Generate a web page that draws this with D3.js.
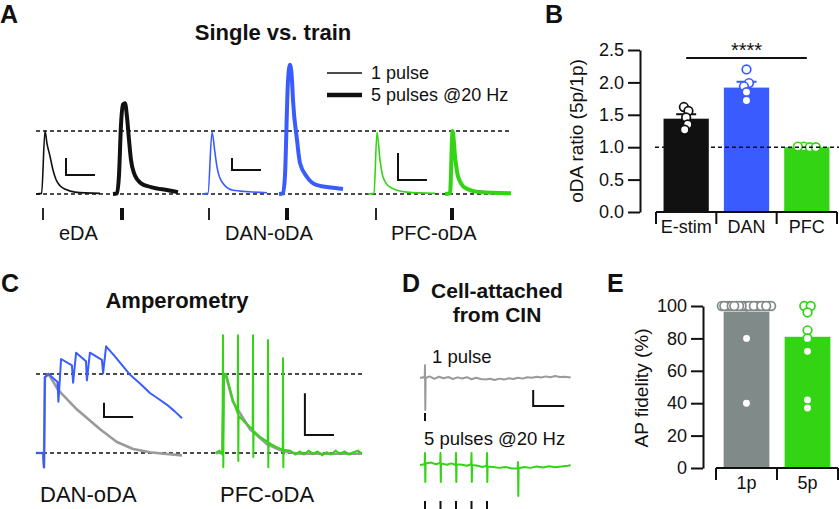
<!DOCTYPE html>
<html>
<head>
<meta charset="utf-8">
<script src="https://cdn.jsdelivr.net/npm/d3@7"></script>
<style>
  body { margin: 0; background: #fff; }
  svg { display: block; }
  text { font-family: "Liberation Sans", Arial, Helvetica, sans-serif; fill: #111; }
</style>
</head>
<body>
<svg id="fig" width="839" height="509"></svg>
<script>
// ==== data ====

// A: single vs train, [ms from sweep start, amplitude / 1p peak]
const eda1p = [[0, 0], [140, 0.01], [225, 1.0], [275, 0.8], [350, 0.6], [425, 0.38], [500, 0.23], [600, 0.13], [750, 0.07], [975, 0.03], [1600, 0.01]]
const eda5p = [[0, 0], [100, 0.01], [150, 0.3], [200, 1.1], [250, 1.42], [300, 1.44], [350, 1.22], [400, 0.86], [450, 0.54], [525, 0.33], [700, 0.17], [950, 0.11], [1375, 0.06], [1625, 0.03]]
const dan1p = [[0, 0], [150, 0.01], [250, 0.98], [325, 0.65], [375, 0.43], [500, 0.19], [775, 0.06], [1625, 0.02]]
const dan5p = [[0, 0], [100, 0.01], [150, 0.3], [225, 1.8], [275, 2.05], [325, 1.8], [350, 1.49], [450, 0.86], [525, 0.49], [700, 0.27], [950, 0.14], [1350, 0.1], [1600, 0.08]]
const pfc1p = [[0, 0], [150, 0.01], [225, 0.98], [300, 0.54], [375, 0.27], [550, 0.11], [975, 0.03], [1675, 0.01]]
const pfc5p = [[0, 0], [125, 0.01], [190, 1.0], [250, 0.6], [325, 0.28], [500, 0.1], [875, 0.03], [1650, 0.01]]
const aGroups = ['eDA', 'DAN-oDA', 'PFC-oDA']
const aStim1p = [175, 175, 200]
const aStim5p = [225, 200, 175]
const aBarH = [0.27, 0.19, 0.43] // vertical scale bars

// B: oDA ratio
const bCats = ['E-stim', 'DAN', 'PFC']
const bMeans = [1.44, 1.92, 1.0]
const bSem = [0.07, 0.09, 0.01]
const bPoints = [
  [1.62, 1.56, 1.46, 1.35, 1.27],
  [2.2, 1.99, 1.94, 1.85, 1.72],
  [1.01, 1.0, 1.01, 1.0],
]
const bTicks = [0, 0.5, 1, 1.5, 2, 2.5]

// C: amperometry, [ms from first pulse, amplitude / 1p peak]
const danTrain = [[-27, 0], [-3, 0], [0, -0.18], [3, 0.96], [15, 1.0], [45, 0.9], [48, 0.65], [57, 1.19], [93, 1.11], [97, 0.89], [107, 1.27], [140, 1.16], [143, 0.92], [153, 1.27], [193, 1.18], [197, 1.01], [207, 1.35], [237, 1.22], [287, 0.99], [320, 0.88], [353, 0.76], [380, 0.69], [410, 0.61], [435, 0.53], [460, 0.44]]
const danSingle = [[-27, 0], [-3, 0], [0, -0.18], [3, 0.96], [15, 1.0], [47, 0.8], [110, 0.55], [150, 0.42], [187, 0.3], [243, 0.14], [297, 0.05], [353, 0.01], [400, -0.01], [460, -0.03]]
const pfcTrain = [[-25, 0], [-12, 0.03], [-2, -0.02], [0, 1.49], [1, -0.18], [3, 1.0], [10, 1.0], [33, 0.67], [49, 0.5], [50, 1.49], [51, -0.1], [52, 0.47], [70, 0.4], [90, 0.33], [99, 0.3], [100, 1.49], [101, -0.05], [102, 0.28], [125, 0.2], [149, 0.14], [150, 1.43], [151, -0.18], [152, 0.13], [175, 0.08], [199, 0.04], [200, 1.2], [201, -0.18], [202, 0.04], [225, 0.03], [240, -0.02], [257, 0.02], [270, -0.02], [285, 0.03], [300, -0.01], [315, 0.02], [330, -0.03], [345, 0.01], [360, -0.02], [375, 0.03], [390, -0.01], [405, 0.02], [420, -0.02], [435, 0.01], [450, 0.03], [463, -0.01]]
const pfcSingle = [[-25, 0], [-2, 0], [3, 1.0], [10, 0.98], [33, 0.65], [90, 0.3], [147, 0.11], [200, 0.02], [257, -0.01], [463, -0.01]]
const cGroups = ['DAN-oDA', 'PFC-oDA']
const cBarH = [0.18, 0.53]

// D: cell-attached, [ms from first pulse, mV-ish units]
const cin1p = [[-16, 0], [-5, 0.05], [-1, 0], [0, 0.8], [1, -2.0], [2, 0], [15, 0.1], [30, -0.05], [45, 0.08], [60, -0.02], [75, 0.06], [90, -0.06], [105, 0.04], [120, -0.03], [135, 0.05], [150, -0.08], [165, 0.02], [180, -0.06], [195, -0.1], [210, -0.05], [225, -0.12], [240, -0.04], [255, -0.1], [270, -0.02], [285, -0.06], [300, 0.02], [315, -0.04], [330, 0.05], [345, 0.02], [360, 0.08], [375, 0.03], [390, 0.1], [405, 0.05], [420, 0.12], [435, 0.06], [450, 0.08], [470, 0.03]]
const cin5p = [[-16, 0], [-1, 0.05], [0, 0.75], [1, -1.06], [2, 0.1], [20, 0.15], [35, 0.05], [49, 0.12], [50, 0.75], [51, -1.06], [52, 0.1], [70, 0.02], [85, 0.1], [99, 0], [100, 0.75], [101, -1.06], [102, 0.05], [120, 0.02], [135, -0.05], [149, 0.05], [150, 0.75], [151, -1.06], [152, 0], [170, -0.05], [185, -0.12], [199, -0.05], [200, 0.75], [201, -1.06], [202, -0.1], [220, -0.12], [240, -0.18], [260, -0.12], [280, -0.22], [299, -0.2], [300, 0.19], [301, -1.94], [302, -0.2], [320, -0.12], [340, -0.18], [360, -0.1], [380, -0.16], [400, -0.08], [420, -0.14], [440, -0.1], [460, -0.05], [470, -0.02]]
const dPulses = [0, 50, 100, 150, 200]

// E: AP fidelity
const eCats = ['1p', '5p']
const eMeans = [96.5, 81]
const eSem = [2, 0]
const ePoints = [
  [100, 100, 100, 100, 100, 100, 100, 100, 100, 100, 100, 100, 100, 100, 100, 100, 100, 100, 100, 100, 100, 80, 40],
  [100, 100, 96, 85, 80, 72, 42, 37],
]
const eTicks = [0, 20, 40, 60, 80, 100]

// ==== styles ====
const BLACK = '#111111'
const BLUE = '#3a5cff'
const GREEN = '#33d414'
const GREY_TR = '#9a9a9a'
const GREY_BAR = '#808b89'
const aColors = [BLACK, BLUE, GREEN]

const svg = d3.select('#fig')

function label(txt, x, y, size, opts = {}) {
  return svg.append('text')
    .attr('x', x).attr('y', y)
    .attr('font-size', size)
    .attr('font-weight', opts.bold ? 'bold' : null)
    .attr('text-anchor', opts.anchor || 'start')
    .text(txt)
}

function trace(g, data, x, y, color, width, curve) {
  g.append('path').datum(data)
    .attr('fill', 'none')
    .attr('stroke', color)
    .attr('stroke-width', width)
    .attr('stroke-linejoin', 'round')
    .attr('d', d3.line().x(d => x(d[0])).y(d => y(d[1])).curve(curve || d3.curveLinear))
}

function hline(x1, x2, y, opts = {}) {
  svg.append('line')
    .attr('x1', x1).attr('x2', x2).attr('y1', y).attr('y2', y)
    .attr('stroke', opts.color || BLACK)
    .attr('stroke-width', opts.width || 1.6)
    .attr('stroke-dasharray', opts.dash || null)
}

function scaleBar(g, x0, yBottom, w, h) {
  g.append('path')
    .attr('fill', 'none').attr('stroke', BLACK).attr('stroke-width', 2)
    .attr('d', `M${x0},${yBottom - h}V${yBottom}H${x0 + w}`)
}

// panel letters + titles
label('A', 0, 23, 25, { bold: true })
label('B', 545, 23, 25, { bold: true })
label('C', 1, 292, 25, { bold: true })
label('D', 402, 292, 25, { bold: true })
label('E', 607, 292, 25, { bold: true })
label('Single vs. train', 273, 40, 22, { bold: true, anchor: 'middle' })
label('Amperometry', 177, 308, 22, { bold: true, anchor: 'middle' })
label('Cell-attached', 497, 298, 21, { bold: true, anchor: 'middle' })
label('from CIN', 497, 322, 21, { bold: true, anchor: 'middle' })

// ==== A ====
;(function () {
  const tA = d3.scaleLinear().domain([0, 1000]).range([0, 40])
  const yA = d3.scaleLinear().domain([0, 1]).range([194, 131])
  const gA = d3.scaleLinear().domain([0, 2]).range([36, 368])
  const trainShift = 1925
  const traces = [[eda1p, eda5p], [dan1p, dan5p], [pfc1p, pfc5p]]

  hline(36, 512, yA(1), { dash: '4,3', width: 1.5 })
  hline(36, 512, yA(0), { dash: '4,3', width: 1.5 })

  aGroups.forEach((name, i) => {
    const g = svg.append('g').attr('transform', `translate(${gA(i)},0)`)
    const x5 = t => tA(t + trainShift)
    trace(g, traces[i][0], tA, yA, aColors[i], 1.6, d3.curveMonotoneX)
    trace(g, traces[i][1], x5, yA, aColors[i], 4, d3.curveMonotoneX)

    // stimulation marks
    g.append('rect').attr('x', tA(aStim1p[i]) - 0.9).attr('y', 208).attr('width', 1.8).attr('height', 12).attr('fill', BLACK)
    g.append('rect').attr('x', x5(aStim5p[i]) - 2).attr('y', 208).attr('width', 4).attr('height', 12).attr('fill', BLACK)

    // scale bars
    const yb = [175, 170, 180][i]
    scaleBar(g, tA(750), yb, tA(725), yA(0) - yA(aBarH[i]))

    g.append('text').attr('x', 23).attr('y', 240).attr('font-size', 20).text(name)
  })

  // legend
  hline(327, 362, 73, { width: 1.6 })
  hline(327, 362, 95, { width: 4.5 })
  label('1 pulse', 371, 79, 18)
  label('5 pulses @20 Hz', 371, 101, 18)
})()

// ==== bar chart helpers (B, E) ====
function swarm(values, cx, y, r) {
  const nodes = values.map((v, i) => ({ x: cx + (i % 2 ? 1 : -1) * (0.2 + i * 0.15), fy: y(v), y: y(v) }))
  d3.forceSimulation(nodes)
    .force('x', d3.forceX(cx).strength(0.06))
    .force('c', d3.forceCollide(r))
    .stop()
    .tick(300)
  return nodes
}

function barChart(o) {
  const x = d3.scaleBand().domain(o.cats).range(o.xRange).paddingInner(0.25).paddingOuter(0.125)
  const y = d3.scaleLinear().domain(o.yDomain).range(o.yRange)
  const g = svg.append('g')

  g.selectAll('rect.bar').data(o.means).join('rect')
    .attr('x', (d, i) => x(o.cats[i]))
    .attr('y', d => y(d))
    .attr('width', x.bandwidth())
    .attr('height', d => y(o.yDomain[0]) - y(d))
    .attr('fill', (d, i) => o.colors[i])

  // error bars (upper only)
  o.means.forEach((m, i) => {
    if (!o.sem[i]) return
    const cx = x(o.cats[i]) + x.bandwidth() / 2
    g.append('path').attr('fill', 'none').attr('stroke', o.colors[i]).attr('stroke-width', 2)
      .attr('d', `M${cx},${y(m)}V${y(m + o.sem[i])}M${cx - o.capW / 2},${y(m + o.sem[i])}H${cx + o.capW / 2}`)
  })

  if (o.before) o.before(x, y)

  // dots
  o.points.forEach((vals, i) => {
    const cx = x(o.cats[i]) + x.bandwidth() / 2
    const nodes = swarm(vals, cx, y, o.swarmR[i])
    g.selectAll(null).data(nodes).join('circle')
      .attr('cx', d => d.x).attr('cy', d => d.y).attr('r', 4.3)
      .attr('fill', '#fff').attr('stroke', o.colors[i]).attr('stroke-width', 1.7)
  })

  // y axis
  const ax = g.append('g').attr('transform', `translate(${o.axisX},0)`)
    .call(d3.axisLeft(y).tickValues(o.ticks).tickFormat(o.fmt).tickSize(12).tickSizeOuter(0).tickPadding(4))
  ax.select('.domain').attr('stroke-width', 2).attr('stroke', BLACK)
  ax.selectAll('.tick line').attr('stroke-width', 2).attr('stroke', BLACK)
  ax.selectAll('.tick text').attr('font-size', 18).attr('font-family', '"Liberation Sans", Arial, sans-serif').attr('fill', BLACK)

  // bracket x axis
  const y0 = y(o.yDomain[0])
  const step = x.step()
  const bounds = d3.range(o.cats.length + 1).map(k => o.xRange[0] + k * step)
  g.append('line').attr('x1', bounds[0]).attr('x2', bounds[bounds.length - 1])
    .attr('y1', y0).attr('y2', y0).attr('stroke', BLACK).attr('stroke-width', 2)
  g.selectAll(null).data(bounds).join('line')
    .attr('x1', d => d).attr('x2', d => d).attr('y1', y0).attr('y2', y0 + 12)
    .attr('stroke', BLACK).attr('stroke-width', 2)
  g.selectAll(null).data(o.cats).join('text')
    .attr('x', d => x(d) + x.bandwidth() / 2).attr('y', y0 + 21)
    .attr('text-anchor', 'middle').attr('font-size', 18).text(d => d)

  // y label
  g.append('text').attr('transform', `translate(${o.labelX},${o.labelY}) rotate(-90)`)
    .attr('text-anchor', 'middle').attr('font-size', 19).text(o.yLabel)
  return { x, y }
}

// ==== B ====
barChart({
  cats: bCats, means: bMeans, sem: bSem, points: bPoints,
  colors: [BLACK, BLUE, GREEN],
  xRange: [656, 837], yDomain: [0, 2.5], yRange: [212, 50],
  ticks: bTicks, fmt: d3.format('.1f'), axisX: 640,
  capW: 20, swarmR: [3, 3, 3],
  yLabel: 'oDA ratio (5p/1p)', labelX: 583, labelY: 131,
  before: (x, y) => {
    hline(655, 839, y(1), { dash: '4,3', width: 1.5 })
    const c0 = x(bCats[0]) + x.bandwidth() / 2
    const c2 = x(bCats[2]) + x.bandwidth() / 2
    hline(c0, c2, 58, { width: 1.8 })
    label('****', (c0 + c2) / 2, 57, 20, { anchor: 'middle' })
  },
})

// ==== E ====
barChart({
  cats: eCats, means: eMeans, sem: eSem, points: ePoints,
  colors: [GREY_BAR, GREEN],
  xRange: [716, 838], yDomain: [0, 100], yRange: [468, 306],
  ticks: eTicks, fmt: d3.format('d'), axisX: 703,
  capW: 45, swarmR: [1.25, 3.2],
  yLabel: 'AP fidelity (%)', labelX: 648, labelY: 388,
})

// ==== C ====
;(function () {
  const tC = d3.scaleLinear().domain([0, 300]).range([0, 90])
  const yC = d3.scaleLinear().domain([0, 1]).range([453, 374])
  const origins = d3.scaleLinear().domain([0, 1]).range([44, 223])

  hline(36, 362, yC(1), { dash: '4,3', width: 1.5 })
  hline(36, 362, yC(0), { dash: '4,3', width: 1.5 })

  const pairs = [[danSingle, danTrain, BLUE], [pfcSingle, pfcTrain, GREEN]]
  cGroups.forEach((name, i) => {
    const g = svg.append('g').attr('transform', `translate(${origins(i)},0)`)
    trace(g, pairs[i][0], tC, yC, GREY_TR, 2.6)
    trace(g, pairs[i][1], tC, yC, pairs[i][2], 2)
    const xb = [200, 273][i]
    scaleBar(g, tC(xb), [417, 435][i], tC(97), yC(0) - yC(cBarH[i]))
    g.append('text').attr('x', -origins(i) + [40, 220][i]).attr('y', 502).attr('font-size', 22).text(name)
  })
})()

// ==== D ====
;(function () {
  const tD = d3.scaleLinear().domain([0, 500]).range([0, 155])
  const y1 = d3.scaleLinear().domain([0, 1]).range([378, 362])
  const y5 = d3.scaleLinear().domain([0, 1]).range([465, 449])
  const g = svg.append('g').attr('transform', 'translate(425,0)')

  label('1 pulse', 432, 363, 18.5)
  label('5 pulses @20 Hz', 424, 445, 18.5)

  trace(g, cin1p, tD, y1, GREY_TR, 2)
  trace(g, cin5p, tD, y5, GREEN, 2)

  g.append('rect').attr('x', tD(0) - 1).attr('y', 413).attr('width', 2).attr('height', 8).attr('fill', BLACK)
  g.selectAll(null).data(dPulses).join('rect')
    .attr('x', d => tD(d) - 1).attr('y', 501).attr('width', 2).attr('height', 8).attr('fill', BLACK)

  scaleBar(g, tD(349), 406, tD(100), 16)
})()
</script>
</body>
</html>
